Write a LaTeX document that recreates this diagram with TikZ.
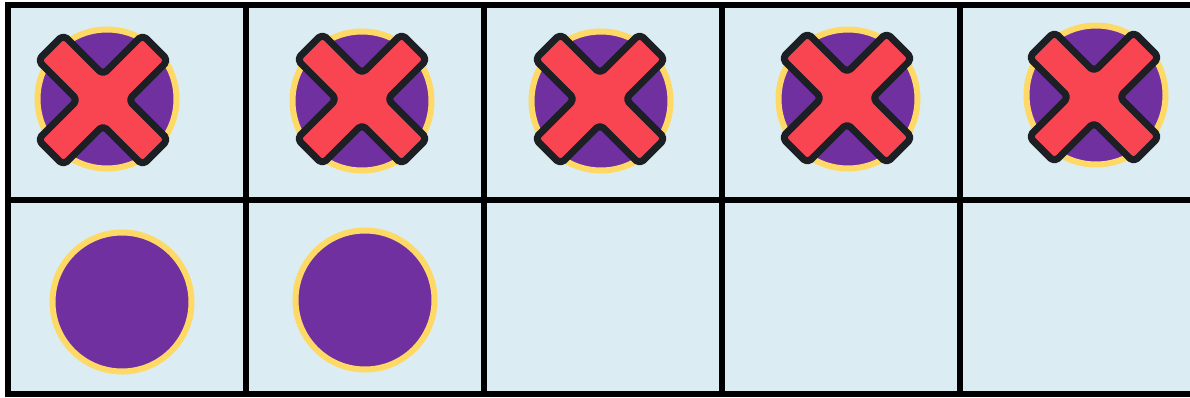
\documentclass[tikz,border=0pt]{standalone}
\usepackage{tikz}

\definecolor{cellblue}{HTML}{DBEDF2}
\definecolor{tokpurple}{HTML}{7030A0}
\definecolor{tokgold}{HTML}{FFD966}
\definecolor{crossred}{HTML}{F94452}
\definecolor{crossdark}{HTML}{1C2024}

\tikzset{
  token/.style={fill=tokpurple, draw=tokgold, line width=3pt},
  gridline/.style={line width=3pt, black},
  crossmark/.style={fill=crossred, draw=crossdark, line width=3.5pt, rounded corners=2.5pt, line join=round},
}

\begin{document}
\begin{tikzpicture}[x=0.5pt, y=-0.5pt]
    \useasboundingbox (0,0) rectangle (1190,397);

    % 底色
    \fill[cellblue] (8,5) rectangle (1190,394);

    % 圆片
    \foreach \cx/\cy in {107/99, 362/101, 601/101, 848/99, 1096/95, 122/302, 365/300}
        \filldraw[token] (\cx,\cy) circle (69.5);

    % 叉号
    \def\w{18}
    \def\l{74}
    \foreach \cx/\cy in {103/100, 362/99, 600/99, 847/98, 1094/97}
        \draw[crossmark, shift={(\cx,\cy)}, rotate=45]
            (0,\l) -- (\w,\l) -- (\w,\w) -- (\l,\w) -- (\l,-\w) -- (\w,-\w) -- (\w,-\l)
            -- (-\w,-\l) -- (-\w,-\w) -- (-\l,-\w) -- (-\l,\w) -- (-\w,\w) -- (-\w,\l) -- cycle;

    % 格线
    \draw[gridline] (1190,5) -- (8,5) -- (8,394) -- (1190,394);
    \draw[gridline] (8,200) -- (1190,200);
    \foreach \gx in {246, 484, 722, 960}
        \draw[gridline] (\gx,5) -- (\gx,394);
\end{tikzpicture}
\end{document}
